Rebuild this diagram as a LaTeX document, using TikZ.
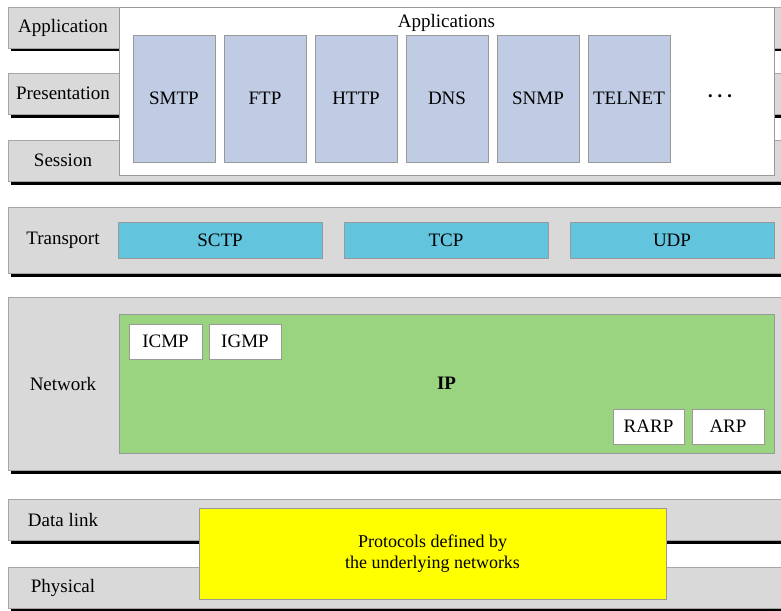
\documentclass[tikz,border=0pt]{standalone}
\usepackage{fontspec}
\setmainfont{Liberation Serif}
\definecolor{barfill}{HTML}{D9D9D9}
\definecolor{appblue}{HTML}{C0CCE4}
\definecolor{transblue}{HTML}{63C4DE}
\definecolor{ipgreen}{HTML}{9AD480}
\definecolor{underyellow}{HTML}{FFFF00}
\tikzset{
  every node/.style={font=\fontsize{19}{22}\selectfont},
  layer/.style={draw=gray!70,fill=barfill,line width=0.8pt},
  shade/.style={line width=3pt,black},
  box/.style={rectangle,draw=gray!80,line width=0.8pt,inner sep=0pt},
  appbox/.style={box,fill=appblue,minimum width=82pt,minimum height=127pt},
  transbox/.style={box,fill=transblue,minimum width=204pt,minimum height=36pt},
  ipbox/.style={box,fill=white,minimum width=72pt,minimum height=35pt}
}
\begin{document}
\begin{tikzpicture}[x=1pt,y=-1pt]
  \useasboundingbox (0,0) rectangle (781,610);
  \clip (0,0) rectangle (781,610);

  % layer bars
  \foreach \t/\b/\n/\lab in {7/48/app/Application, 73/114/pres/Presentation,
      140/181/sess/Session, 207/273/trans/Transport, 297/470/net/Network,
      499/540/dl/Data link, 567/608/phy/Physical}
  {
    \draw[shade] (11,\b+2) -- (790,\b+2);
    \draw[layer] (8,\t) rectangle (790,\b);
    \node (\n-lab) at (63,{(\t+\b)/2}) {\lab};
  }

  % application layer
  \node[box,fill=white,minimum width=655pt,minimum height=168pt] (apps) at (446.5,91) {};
  \node[below=4pt] (apps-lab) at (apps.north) {Applications};
  \foreach \p [count=\i] in {SMTP,FTP,HTTP,DNS,SNMP,TELNET}
    \node[appbox] (\p) at ({174+91*(\i-1)},98.5) {\p};
  \node[font=\fontsize{13}{13}\selectfont] (more) at (720,98)
    {\textbullet\hspace{5pt}\textbullet\hspace{5pt}\textbullet};

  % transport layer
  \node[transbox] (sctp) at (220,240) {SCTP};
  \node[transbox] (tcp) at (446,240) {TCP};
  \node[transbox] (udp) at (672,240) {UDP};

  % network layer
  \node[box,fill=ipgreen,minimum width=655pt,minimum height=139pt] (ip) at (446.5,383.5) {\textbf{IP}};
  \node[ipbox,minimum width=73pt] (icmp) at (165.5,341.5) {ICMP};
  \node[ipbox] (igmp) at (245,341.5) {IGMP};
  \node[ipbox,minimum width=71pt] (rarp) at (648.5,426.5) {RARP};
  \node[ipbox] (arp) at (728,426.5) {ARP};

  % data link + physical
  \node[box,fill=underyellow,minimum width=467pt,minimum height=91pt,align=center,
        font=\fontsize{18}{21}\selectfont] (under) at (432.5,553.5)
        {Protocols defined by\\the underlying networks};
\end{tikzpicture}
\end{document}
